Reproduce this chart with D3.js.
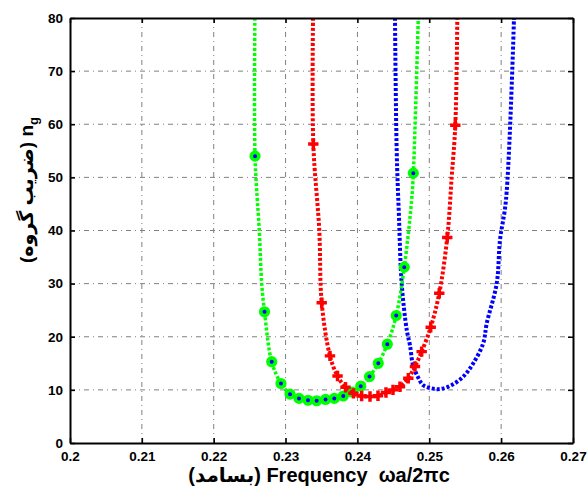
<!DOCTYPE html>
<html>
<head>
<meta charset="utf-8">
<script src="https://cdn.jsdelivr.net/npm/d3@7"></script>
<style>
  body { margin: 0; background: #fff; }
  svg { display: block; }
</style>
</head>
<body>
<div id="chart"></div>
<script>
// axis ticks
var xTicks = [0.2, 0.21, 0.22, 0.23, 0.24, 0.25, 0.26, 0.27];
var xTickLabels = ["0.2", "0.21", "0.22", "0.23", "0.24", "0.25", "0.26", "0.27"];
var yTicks = [0, 10, 20, 30, 40, 50, 60, 70, 80];

// green curve (fit line) and its data points
var greenLineF = [0.22573, 0.22575, 0.22634, 0.22668, 0.22707, 0.22807, 0.22936, 0.23062, 0.23187, 0.23312, 0.23433, 0.23556, 0.23678, 0.23803, 0.23924, 0.24046, 0.24168, 0.2429, 0.24416, 0.2454, 0.24652, 0.24754, 0.24778, 0.24847];
var greenLineN = [80, 54.0, 40, 30, 24.7, 15.3, 11.2, 9.2, 8.4, 8.05, 7.95, 8.2, 8.4, 8.85, 9.6, 10.7, 12.5, 15.0, 18.6, 24.0, 33.1, 45.7, 50.8, 80];
var greenPtsF = [0.22575, 0.22707, 0.22807, 0.22936, 0.23062, 0.23187, 0.23312, 0.23433, 0.23556, 0.23678, 0.23803, 0.23924, 0.24046, 0.24168, 0.2429, 0.24416, 0.2454, 0.24652, 0.24778];
var greenPtsN = [54.0, 24.7, 15.3, 11.2, 9.2, 8.4, 8.05, 7.95, 8.2, 8.4, 8.85, 9.6, 10.7, 12.5, 15.0, 18.6, 24.0, 33.1, 50.8];

// red curve
var redLineF = [0.23382, 0.23386, 0.23469, 0.23503, 0.23618, 0.23723, 0.23834, 0.23945, 0.24059, 0.24175, 0.24286, 0.24397, 0.24495, 0.24592, 0.24708, 0.24801, 0.24894, 0.2502, 0.25139, 0.2525, 0.25312, 0.25362, 0.2539];
var redLineN = [80, 56.3, 40.1, 26.4, 16.4, 12.6, 10.5, 9.35, 8.85, 8.75, 8.9, 9.5, 10.0, 10.6, 12.2, 14.4, 17.2, 21.8, 28.2, 38.7, 50.1, 59.8, 80];
var redPtsF = [0.23386, 0.23503, 0.23618, 0.23723, 0.23834, 0.23945, 0.24059, 0.24175, 0.24286, 0.24397, 0.24495, 0.24592, 0.24708, 0.24801, 0.24894, 0.2502, 0.25139, 0.2525, 0.25362];
var redPtsN = [56.3, 26.4, 16.4, 12.6, 10.5, 9.35, 8.85, 8.75, 8.9, 9.5, 10.0, 10.6, 12.2, 14.4, 17.2, 21.8, 28.2, 38.7, 59.8];

// blue curve (line only)
var blueLineF = [0.24523, 0.24546, 0.24578, 0.24616, 0.24686, 0.24731, 0.24773, 0.24843, 0.24912, 0.2501, 0.25149, 0.25312, 0.25473, 0.25612, 0.25751, 0.25799, 0.25938, 0.25984, 0.26067, 0.26179];
var blueLineN = [80, 55.2, 42.6, 30, 21.3, 18.4, 14.7, 12.4, 10.9, 10.35, 10.15, 10.9, 12.5, 15.0, 18.8, 22.5, 30, 38.2, 45.7, 80];

var W = 587, H = 497;
var plot = {left: 70, top: 18, right: 573, bottom: 443};
var font = "'Liberation Sans', Arial, 'DejaVu Sans', sans-serif";

var svg = d3.select("#chart").append("svg")
    .attr("width", W)
    .attr("height", H);

var x = d3.scaleLinear().domain([0.2, 0.27]).range([plot.left, plot.right]);
var y = d3.scaleLinear().domain([0, 80]).range([plot.bottom, plot.top]);

svg.append("clipPath").attr("id", "clip")
  .append("rect")
    .attr("x", plot.left).attr("y", plot.top)
    .attr("width", plot.right - plot.left)
    .attr("height", plot.bottom - plot.top);

// grid lines
var grid = svg.append("g").attr("class", "grid");
grid.selectAll("line.v")
    .data(xTicks.slice(1, -1))
  .enter().append("line")
    .attr("x1", function(d) { return x(d); })
    .attr("x2", function(d) { return x(d); })
    .attr("y1", plot.top).attr("y2", plot.bottom);
grid.selectAll("line.h")
    .data(yTicks.slice(1, -1))
  .enter().append("line")
    .attr("y1", function(d) { return y(d); })
    .attr("y2", function(d) { return y(d); })
    .attr("x1", plot.left).attr("x2", plot.right);
grid.selectAll("line")
    .attr("stroke", "#808080")
    .attr("stroke-width", 1)
    .attr("stroke-dasharray", "5,4,1,4");

function zip(a, b) { return a.map(function(v, i) { return [v, b[i]]; }); }

var line = d3.line()
    .x(function(d) { return x(d[0]); })
    .y(function(d) { return y(d[1]); })
    .curve(d3.curveCatmullRom.alpha(0.5));

var curves = svg.append("g").attr("clip-path", "url(#clip)");

curves.append("path")
    .attr("d", line(zip(blueLineF, blueLineN)))
    .attr("fill", "none")
    .attr("stroke", "#0000ff")
    .attr("stroke-width", 4)
    .attr("stroke-dasharray", "3,2");

curves.append("path")
    .attr("d", line(zip(greenLineF, greenLineN)))
    .attr("fill", "none")
    .attr("stroke", "#00ff00")
    .attr("stroke-width", 3.5)
    .attr("stroke-dasharray", "3,2");

curves.selectAll("circle.green")
    .data(zip(greenPtsF, greenPtsN))
  .enter().append("circle")
    .attr("class", "green")
    .attr("cx", function(d) { return x(d[0]); })
    .attr("cy", function(d) { return y(d[1]); })
    .attr("r", 3.8)
    .attr("fill", "#0000ff")
    .attr("stroke", "#00ff00")
    .attr("stroke-width", 3.6);

curves.append("path")
    .attr("d", line(zip(redLineF, redLineN)))
    .attr("fill", "none")
    .attr("stroke", "#ff0000")
    .attr("stroke-width", 4)
    .attr("stroke-dasharray", "3,2");

var cross = d3.symbol().type(d3.symbolCross).size(60);
curves.selectAll("path.red")
    .data(zip(redPtsF, redPtsN))
  .enter().append("path")
    .attr("class", "red")
    .attr("d", cross)
    .attr("transform", function(d) { return "translate(" + x(d[0]) + "," + y(d[1]) + ")"; })
    .attr("fill", "#ff0000");

// axes (ticks pointing inward on all four sides)
var xAxis = svg.append("g")
    .attr("transform", "translate(0," + plot.bottom + ")")
    .call(d3.axisBottom(x).tickValues(xTicks)
      .tickFormat(function(d, i) { return xTickLabels[i]; })
      .tickSize(-5).tickSizeOuter(0).tickPadding(8));
var yAxis = svg.append("g")
    .attr("transform", "translate(" + plot.left + ",0)")
    .call(d3.axisLeft(y).tickValues(yTicks)
      .tickSize(-5).tickSizeOuter(0).tickPadding(7));
var xTop = svg.append("g")
    .attr("transform", "translate(0," + plot.top + ")")
    .call(d3.axisTop(x).tickValues(xTicks).tickFormat("").tickSize(-5).tickSizeOuter(0));
var yRight = svg.append("g")
    .attr("transform", "translate(" + plot.right + ",0)")
    .call(d3.axisRight(y).tickValues(yTicks).tickFormat("").tickSize(-5).tickSizeOuter(0));

[xAxis, yAxis, xTop, yRight].forEach(function(a) {
  a.select(".domain").attr("stroke", "#000").attr("stroke-width", 2);
  a.selectAll(".tick line").attr("stroke", "#000").attr("stroke-width", 1.5);
  a.selectAll("text")
    .attr("fill", "#000")
    .style("font-family", font)
    .style("font-weight", "bold")
    .style("font-size", "13.5px");
});

// axis titles
svg.append("text")
    .attr("x", 319)
    .attr("y", 482)
    .attr("text-anchor", "middle")
    .style("font-family", font)
    .style("font-weight", "bold")
    .style("font-size", "20px")
    .text("(بسامد) Frequency\u00a0\u00a0ωa/2πc");

var yTitle = svg.append("text")
    .attr("transform", "translate(33,190) rotate(-90)")
    .attr("text-anchor", "middle")
    .style("font-family", font)
    .style("font-weight", "bold")
    .style("font-size", "19px");
yTitle.append("tspan").text("(ضریب گروه) n");
yTitle.append("tspan")
    .attr("dy", "0.35em")
    .style("font-size", "13px")
    .text("g");
</script>
</body>
</html>
